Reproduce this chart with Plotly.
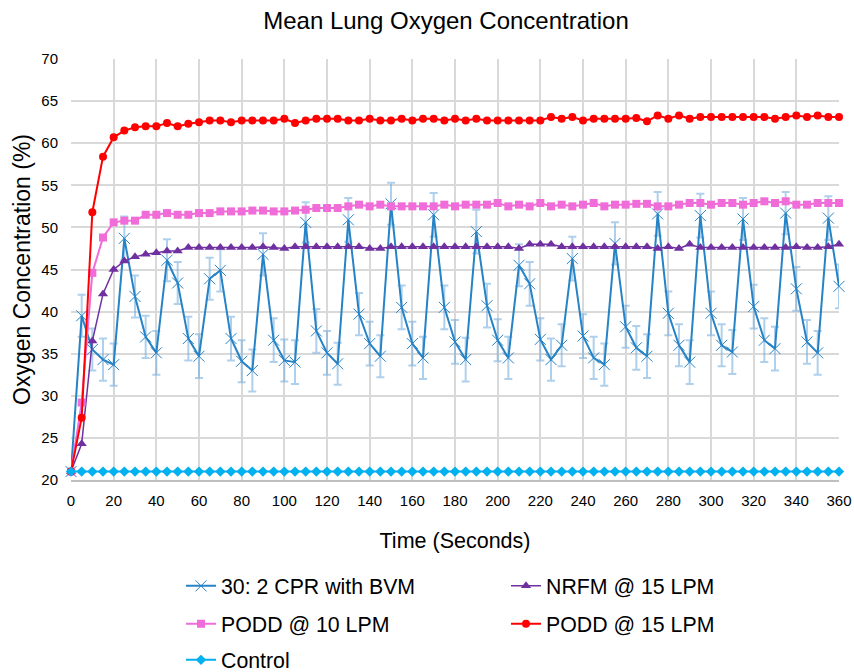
import plotly.graph_objects as go

time_s = list(range(0, 365, 5))

cpr_bvm = [21.0, 39.5, 35.5, 34.3, 33.7, 48.7, 41.8, 37.0, 35.1, 46.1,
           43.4, 36.8, 34.7, 43.9, 44.9, 36.8, 34.1, 33.0, 46.8, 36.6,
           34.2, 34.0, 50.6, 37.7, 35.1, 33.8, 50.9, 39.7, 36.2, 34.7,
           52.8, 40.5, 36.2, 34.5, 51.5, 40.5, 36.4, 34.3, 49.5, 40.7,
           36.6, 34.5, 45.5, 43.3, 36.7, 34.3, 36.0, 46.3, 37.1, 34.5,
           33.7, 48.1, 38.2, 35.7, 34.7, 51.6, 39.8, 36.0, 34.0, 51.4,
           39.8, 36.0, 35.2, 51.0, 40.6, 36.6, 35.6, 51.7, 42.7, 36.4,
           35.1, 51.1, 43.0]
cpr_err = [0.0, 2.5, 2.5, 2.5, 2.5, 2.6, 2.5, 2.5, 2.6, 2.5,
           2.5, 2.6, 2.6, 2.5, 2.5, 2.6, 2.5, 2.5, 2.5, 2.6,
           2.5, 2.6, 2.4, 2.6, 2.6, 2.5, 2.6, 2.5, 2.6, 2.5,
           2.5, 2.6, 2.6, 2.5, 2.6, 2.6, 2.6, 2.6, 2.6, 2.6,
           2.5, 2.5, 2.5, 2.6, 2.5, 2.5, 2.5, 2.6, 2.6, 2.5,
           2.5, 2.5, 2.5, 2.6, 2.6, 2.6, 2.6, 2.5, 2.6, 2.6,
           2.6, 2.5, 2.6, 2.5, 2.6, 2.6, 2.6, 2.5, 2.6, 2.6,
           2.6, 2.6, 2.6]

nrfm_15 = [21.0, 24.3, 36.5, 42.1, 45.0, 46.0, 46.5, 46.8, 47.0, 47.2,
           47.2, 47.6, 47.6, 47.6, 47.6, 47.6, 47.6, 47.6, 47.7, 47.6,
           47.5, 47.7, 47.7, 47.7, 47.7, 47.7, 47.7, 47.7, 47.5, 47.5,
           47.7, 47.7, 47.7, 47.7, 47.7, 47.7, 47.7, 47.7, 47.7, 47.7,
           47.7, 47.7, 47.5, 48.0, 48.0, 48.0, 47.7, 47.7, 47.7, 47.7,
           47.7, 47.7, 47.7, 47.7, 47.7, 47.5, 47.7, 47.5, 48.0, 47.6,
           47.6, 47.6, 47.6, 47.6, 47.6, 47.6, 47.6, 47.6, 47.7, 47.6,
           47.6, 47.7, 48.0]

podd_10 = [21.0, 29.2, 44.6, 48.8, 50.6, 50.8, 50.8, 51.5, 51.5, 51.7,
           51.5, 51.5, 51.7, 51.7, 51.9, 51.9, 51.9, 52.0, 52.0, 51.9,
           51.9, 52.0, 52.1, 52.3, 52.3, 52.3, 52.5, 52.7, 52.5, 52.7,
           52.5, 52.5, 52.5, 52.5, 52.5, 52.7, 52.5, 52.7, 52.7, 52.7,
           52.9, 52.5, 52.7, 52.5, 52.9, 52.5, 52.7, 52.5, 52.7, 52.9,
           52.5, 52.7, 52.7, 52.8, 52.8, 52.5, 52.5, 52.7, 52.9, 52.9,
           52.7, 52.9, 52.9, 52.7, 52.9, 53.1, 52.9, 53.1, 52.7, 52.7,
           52.9, 52.9, 52.9]

podd_15 = [21.0, 27.4, 51.8, 58.4, 60.7, 61.5, 61.9, 62.0, 62.0, 62.4,
           62.0, 62.3, 62.5, 62.7, 62.7, 62.5, 62.7, 62.7, 62.7, 62.7,
           62.9, 62.4, 62.7, 62.9, 62.9, 62.9, 62.7, 62.7, 62.9, 62.7,
           62.7, 62.9, 62.7, 62.9, 62.9, 62.7, 62.9, 62.7, 62.9, 62.7,
           62.7, 62.7, 62.7, 62.7, 62.7, 63.1, 62.9, 63.1, 62.7, 62.9,
           62.9, 62.9, 62.9, 63.0, 62.6, 63.3, 62.9, 63.3, 62.9, 63.1,
           63.1, 63.1, 63.1, 63.1, 63.1, 63.1, 62.9, 63.1, 63.3, 63.1,
           63.3, 63.1, 63.1]

control = [21.0] * len(time_s)

FONT = "Liberation Sans, Arial, sans-serif"

fig = go.Figure()

fig.add_trace(go.Scatter(
    x=time_s, y=cpr_bvm, name="30: 2 CPR with BVM", mode="lines+markers",
    line=dict(color="#2683c6", width=2),
    marker=dict(symbol="x-thin-open", size=11, color="#2683c6",
                line=dict(color="#2683c6", width=1)),
    error_y=dict(type="data", array=cpr_err, visible=True,
                 color="rgba(110,170,220,0.55)", thickness=2, width=4),
    cliponaxis=False, legend="legend",
))
fig.add_trace(go.Scatter(
    x=time_s, y=nrfm_15, name="NRFM @ 15 LPM", mode="lines+markers",
    line=dict(color="#7030a0", width=1.5),
    marker=dict(symbol="triangle-up", size=9, color="#7030a0"),
    cliponaxis=False, legend="legend",
))
fig.add_trace(go.Scatter(
    x=time_s, y=podd_10, name="PODD @ 10 LPM", mode="lines+markers",
    line=dict(color="#f06cd8", width=2),
    marker=dict(symbol="square", size=8, color="#f06cd8"),
    cliponaxis=False, legend="legend2",
))
fig.add_trace(go.Scatter(
    x=time_s, y=podd_15, name="PODD @ 15 LPM", mode="lines+markers",
    line=dict(color="#ff0000", width=2),
    marker=dict(symbol="circle", size=8, color="#ff0000"),
    cliponaxis=False, legend="legend2",
))
fig.add_trace(go.Scatter(
    x=time_s, y=control, name="Control", mode="lines+markers",
    line=dict(color="#00b0f0", width=2),
    marker=dict(symbol="diamond", size=8, color="#00b0f0"),
    cliponaxis=False, legend="legend3",
))

def leg(ycenter_px):
    return dict(orientation="h", xref="container", yref="container",
                x=181 / 854, xanchor="left", y=1 - ycenter_px / 672, yanchor="middle",
                font=dict(size=21.3, family=FONT), entrywidth=280,
                entrywidthmode="pixels", traceorder="normal",
                bgcolor="rgba(0,0,0,0)")

fig.update_layout(
    width=854, height=672,
    paper_bgcolor="white", plot_bgcolor="white",
    margin=dict(l=71, r=15, t=59, b=192),
    font=dict(family=FONT, color="#000000"),
    title=dict(text="Mean Lung Oxygen Concentration", x=446 / 854, xanchor="center",
               y=1 - 21 / 672, yanchor="middle", font=dict(size=24, family=FONT)),
    legend=leg(586),
    legend2=leg(624),
    legend3=leg(660),
    showlegend=True,
)
fig.update_xaxes(
    range=[0, 360], tick0=0, dtick=20, showgrid=True, gridcolor="#d9d9d9",
    gridwidth=1.5, zeroline=False, showline=True, linecolor="#bfbfbf", linewidth=2,
    ticks="", tickfont=dict(size=15, family=FONT), ticklabelstandoff=6,
    title=dict(text="Time (Seconds)", font=dict(size=21.5, family=FONT), standoff=25),
    automargin=False,
)
fig.update_yaxes(
    range=[20, 70], tick0=20, dtick=5, showgrid=True, gridcolor="#d9d9d9",
    gridwidth=1.5, zeroline=False, showline=False, ticks="",
    tickfont=dict(size=15, family=FONT), ticklabelstandoff=12,
    title=dict(text="Oxygen Concentration (%)", font=dict(size=23, family=FONT), standoff=4),
    automargin=False,
)

fig.write_html("out.html", config={"displayModeBar": False},
               post_script="document.body.style.margin='0';")
